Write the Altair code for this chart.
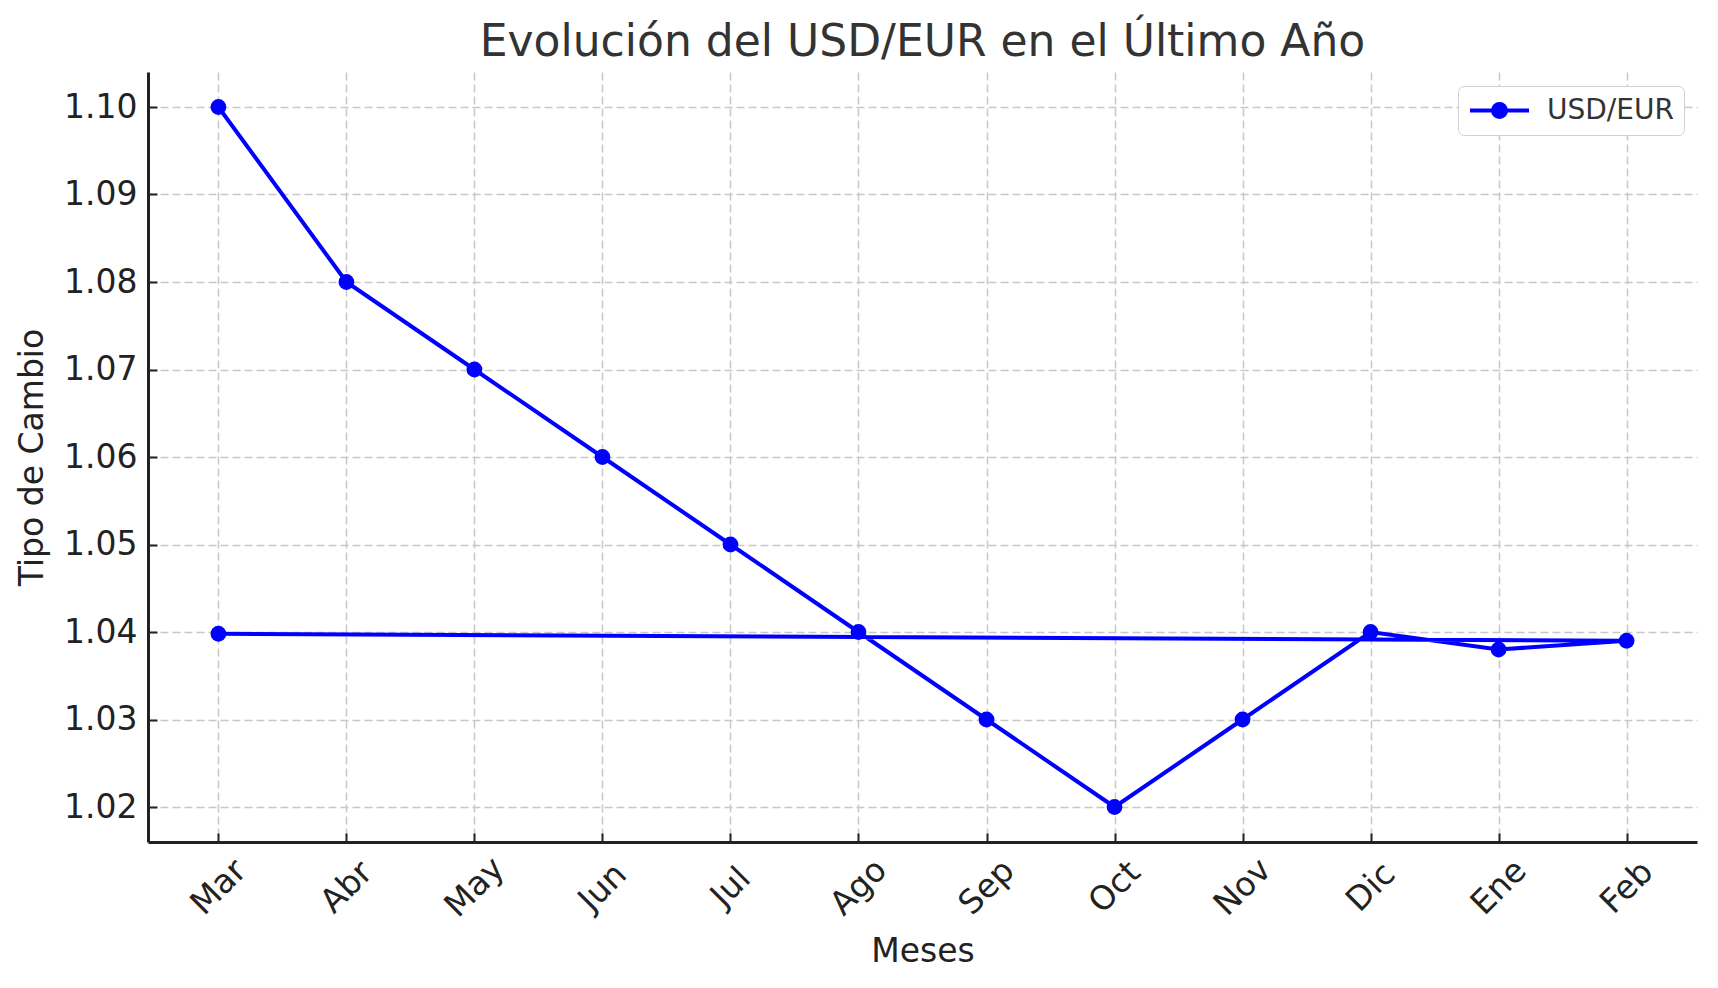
import altair as alt
import pandas as pd

# Data
meses = ["Mar", "Abr", "May", "Jun", "Jul", "Ago", "Sep", "Oct", "Nov", "Dic", "Ene", "Feb", "Mar"]
tipo = [1.10, 1.08, 1.07, 1.06, 1.05, 1.04, 1.03, 1.02, 1.03, 1.04, 1.038, 1.039, 1.0398]
eje_x = ["Mar", "Abr", "May", "Jun", "Jul", "Ago", "Sep", "Oct", "Nov", "Dic", "Ene", "Feb"]
ticks_y = [1.02, 1.03, 1.04, 1.05, 1.06, 1.07, 1.08, 1.09, 1.10]
serie = "USD/EUR"

df = pd.DataFrame({
    "mes": meses,
    "valor": tipo,
    "orden": list(range(len(meses))),
    "serie": [serie] * len(meses),
})

FONT = "DejaVu Sans"
BLUE = "#0000ff"
W, H = 1549, 770

xscale = alt.Scale(domain=eje_x, padding=0.55)
yscale = alt.Scale(domain=[1.016, 1.104], nice=False, zero=False)

main = alt.Chart(df).mark_line(
    strokeWidth=4,
    color=BLUE,
    point=alt.OverlayMarkDef(filled=True, size=250, opacity=1, color=BLUE),
).encode(
    x=alt.X("mes:N", scale=xscale, sort=eje_x, axis=alt.Axis(
        title="Meses", labelAngle=-45, labelAlign="center", labelBaseline="middle",
        labelPadding=45, ticks=False, domainColor="#222222", domainWidth=3,
        grid=True, gridDash=[8, 4], gridColor="#c8c8c8", gridWidth=1.5,
        labelFontSize=33, titleFontSize=33, labelFont=FONT, titleFont=FONT,
        labelColor="#222222", titleColor="#222222", titleFontWeight="normal",
        titlePadding=12, labelOverlap=False,
    )),
    y=alt.Y("valor:Q", scale=yscale, axis=alt.Axis(
        title="Tipo de Cambio", values=ticks_y, format=".2f", ticks=False,
        labelPadding=11, domainColor="#222222", domainWidth=3,
        grid=True, gridDash=[8, 4], gridColor="#c8c8c8", gridWidth=1.5,
        labelFontSize=33, titleFontSize=33, labelFont=FONT, titleFont=FONT,
        labelColor="#222222", titleColor="#222222", titleFontWeight="normal",
        titlePadding=14,
    )),
    order="orden:Q",
    color=alt.Color("serie:N", scale=alt.Scale(domain=[serie], range=[BLUE]), legend=alt.Legend(
        title=None, orient="none", legendX=1310, legendY=14,
        padding=10, strokeColor="#d0d0d0", fillColor="white", cornerRadius=6,
        labelFontSize=28, labelFont=FONT, labelColor="#333333", labelOffset=16,
        symbolType="M-1,0L1,0M0.22,0A0.22,0.22,0,1,1,-0.22,0A0.22,0.22,0,1,1,0.22,0Z",
        symbolSize=3481, symbolStrokeWidth=4, symbolFillColor=BLUE,
        symbolStrokeColor=BLUE, clipHeight=29, symbolOpacity=1,
    )),
)

# inward-pointing ticks on the left and bottom spines
ticks = alt.Chart(df).mark_point(opacity=0).encode(
    x=alt.X("mes:N", scale=xscale, sort=eje_x, axis=alt.Axis(
        orient="top", offset=-H, labels=False, domain=False, grid=False,
        tickSize=9, tickWidth=2, tickColor="#222222", title=None,
    )),
    y=alt.Y("valor:Q", scale=yscale, axis=alt.Axis(
        orient="right", offset=-W, values=ticks_y, labels=False, domain=False,
        grid=False, tickSize=9, tickWidth=2, tickColor="#222222", title=None,
    )),
)

chart = alt.layer(main, ticks).resolve_axis(
    x="independent", y="independent"
).properties(
    width=W,
    height=H,
    background="white",
    title=alt.Title(
        "Evolución del USD/EUR en el Último Año",
        fontSize=44, font=FONT, color="#333333", fontWeight="normal",
        anchor="middle", offset=7,
    ),
    autosize=alt.AutoSizeParams(type="none"),
    padding={"left": 140, "top": 64, "right": 13, "bottom": 130},
).configure_view(strokeWidth=0, stroke="transparent")

chart.save("out.html", embed_options={"renderer": "svg", "actions": False})
